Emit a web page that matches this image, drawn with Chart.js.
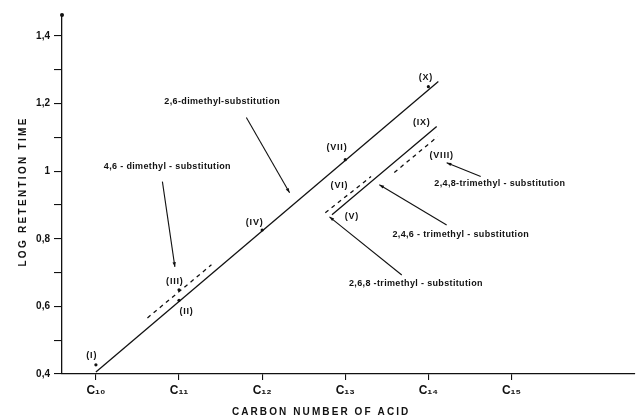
<!DOCTYPE html>
<html>
<head>
<meta charset="utf-8">
<script src="https://cdn.jsdelivr.net/npm/chart.js@4.4.1/dist/chart.umd.min.js"></script>
<style>
  html, body { margin: 0; padding: 0; background: #fff; }
  #wrap { width: 639px; height: 419px; }
</style>
</head>
<body>
<div id="wrap"><canvas id="myChart" width="639" height="419"></canvas></div>
<script>
// x axis: carbon number of the acid
const carbonTicks = [10, 11, 12, 13, 14, 15];
const carbonLabels = ['C₁₀', 'C₁₁', 'C₁₂', 'C₁₃', 'C₁₄', 'C₁₅'];

// y axis: log retention time (labels only on every second tick)
const logTicks = [0.4, 0.5, 0.6, 0.7, 0.8, 0.9, 1.0, 1.1, 1.2, 1.3, 1.4];
const logLabels = ['0,4', '', '0,6', '', '0,8', '', '1', '', '1,2', '', '1,4'];

// lines through the substitution series (start, end)
const dimethyl26X = [10.0, 14.12];
const dimethyl26Y = [0.406, 1.265];
const dimethyl46X = [10.62, 11.39];
const dimethyl46Y = [0.566, 0.723];
const trimethyl246X = [12.84, 14.10];
const trimethyl246Y = [0.871, 1.132];
const trimethyl268X = [12.76, 13.31];
const trimethyl268Y = [0.877, 0.984];
const trimethyl248X = [13.59, 14.11];
const trimethyl248Y = [0.996, 1.102];

// measured acids (dots)
const acidX = [10, 11, 11, 12, 13, 14];
const acidY = [0.427, 0.618, 0.649, 0.826, 1.034, 1.25];

// compound numbers
const romanNames = ['(I)', '(II)', '(III)', '(IV)', '(V)', '(VI)', '(VII)', '(VIII)', '(IX)', '(X)'];
const romanX = [9.95, 11.09, 10.95, 11.91, 13.08, 12.93, 12.90, 14.16, 13.92, 13.97];
const romanY = [0.456, 0.584, 0.673, 0.847, 0.865, 0.957, 1.070, 1.046, 1.144, 1.277];

// series names with their pointer arrows
const seriesNames = [
  '2,6-dimethyl-substitution',
  '4,6 - dimethyl - substitution',
  '2,4,8-trimethyl - substitution',
  '2,4,6 - trimethyl - substitution',
  '2,6,8 -trimethyl - substitution'
];
const nameX = [11.52, 10.86, 14.86, 14.39, 13.85];
const nameY = [1.206, 1.013, 0.963, 0.812, 0.667];
const arrowFromX = [11.81, 10.80, 14.63, 14.22, 13.68];
const arrowFromY = [1.159, 0.969, 0.984, 0.841, 0.693];
const arrowToX = [12.33, 10.95, 14.22, 13.41, 12.81];
const arrowToY = [0.936, 0.717, 1.025, 0.960, 0.865];

const ink = '#111';
const font = '"Liberation Sans", Arial, sans-serif';

const pairs = (xs, ys) => xs.map((v, i) => ({ x: v, y: ys[i] }));
const lineSet = (xs, ys, dash) => ({
  data: pairs(xs, ys),
  showLine: true,
  borderColor: ink,
  borderWidth: 1.3,
  borderDash: dash,
  pointRadius: 0
});

const notes = {
  id: 'notes',
  afterDatasetsDraw(chart) {
    const { ctx, chartArea } = chart;
    const x = chart.scales.x, y = chart.scales.y;
    ctx.save();
    ctx.fillStyle = ink;
    ctx.strokeStyle = ink;

    // dot on top of the y axis
    ctx.beginPath();
    ctx.arc(chartArea.left, chartArea.top, 2, 0, Math.PI * 2);
    ctx.fill();

    ctx.textAlign = 'center';
    ctx.textBaseline = 'middle';

    ctx.font = 'bold 9px ' + font;
    ctx.letterSpacing = '0.8px';
    romanNames.forEach((t, i) => {
      ctx.fillText(t, x.getPixelForValue(romanX[i]), y.getPixelForValue(romanY[i]));
    });

    ctx.letterSpacing = '0.35px';
    seriesNames.forEach((t, i) => {
      ctx.fillText(t, x.getPixelForValue(nameX[i]), y.getPixelForValue(nameY[i]));
      const x0 = x.getPixelForValue(arrowFromX[i]), y0 = y.getPixelForValue(arrowFromY[i]);
      const x1 = x.getPixelForValue(arrowToX[i]), y1 = y.getPixelForValue(arrowToY[i]);
      ctx.lineWidth = 1.1;
      ctx.beginPath();
      ctx.moveTo(x0, y0);
      ctx.lineTo(x1, y1);
      ctx.stroke();
      const a = Math.atan2(y1 - y0, x1 - x0);
      ctx.beginPath();
      ctx.moveTo(x1, y1);
      ctx.lineTo(x1 - 5 * Math.cos(a - 0.35), y1 - 5 * Math.sin(a - 0.35));
      ctx.lineTo(x1 - 5 * Math.cos(a + 0.35), y1 - 5 * Math.sin(a + 0.35));
      ctx.closePath();
      ctx.fill();
    });

    // axis titles
    ctx.font = 'bold 10px ' + font;
    ctx.letterSpacing = '2.1px';
    ctx.fillText('CARBON NUMBER OF ACID', x.getPixelForValue(12.71), chart.height - 7);
    ctx.save();
    ctx.translate(23, y.getPixelForValue(0.94));
    ctx.rotate(-Math.PI / 2);
    ctx.letterSpacing = '2.3px';
    ctx.fillText('LOG RETENTION TIME', 0, 0);
    ctx.restore();

    ctx.restore();
  }
};

const ctx = document.getElementById('myChart');
const myChart = new Chart(ctx, {
  type: 'scatter',
  data: {
    datasets: [
      lineSet(dimethyl26X, dimethyl26Y, []),
      lineSet(dimethyl46X, dimethyl46Y, [4, 4]),
      lineSet(trimethyl246X, trimethyl246Y, []),
      lineSet(trimethyl268X, trimethyl268Y, [4, 4]),
      lineSet(trimethyl248X, trimethyl248Y, [4, 4]),
      {
        data: pairs(acidX, acidY),
        pointRadius: 1.6,
        pointBackgroundColor: ink,
        pointBorderWidth: 0
      }
    ]
  },
  options: {
    responsive: false,
    animation: false,
    layout: { padding: { top: 15, right: 2, left: 0, bottom: 0 } },
    plugins: { legend: { display: false }, tooltip: { enabled: false } },
    scales: {
      x: {
        type: 'linear',
        min: 9.592,
        max: 16.486,
        afterBuildTicks: s => { s.ticks = carbonTicks.map(v => ({ value: v })); },
        afterFit: s => { s.height = 45; s.paddingLeft = 0; s.paddingRight = 0; },
        ticks: {
          callback: (v, i) => carbonLabels[i],
          font: { family: font, size: 12, weight: 'bold' },
          color: ink,
          padding: 3,
          maxRotation: 0,
          autoSkip: false
        },
        grid: { drawOnChartArea: false, tickLength: 6, color: ink, lineWidth: 1.1 },
        border: { color: ink, width: 1.3 }
      },
      y: {
        type: 'linear',
        min: 0.4,
        max: 1.462,
        afterBuildTicks: s => { s.ticks = logTicks.map(v => ({ value: v })); },
        afterFit: s => { s.width = 62; s.paddingTop = 0; s.paddingBottom = 0; },
        ticks: {
          callback: (v, i) => logLabels[i],
          font: { family: font, size: 10, weight: 'bold' },
          color: ink,
          padding: 4,
          autoSkip: false
        },
        grid: { drawOnChartArea: false, tickLength: 8, color: ink, lineWidth: 1.1 },
        border: { color: ink, width: 1.3 }
      }
    }
  },
  plugins: [notes]
});
</script>
</body>
</html>
